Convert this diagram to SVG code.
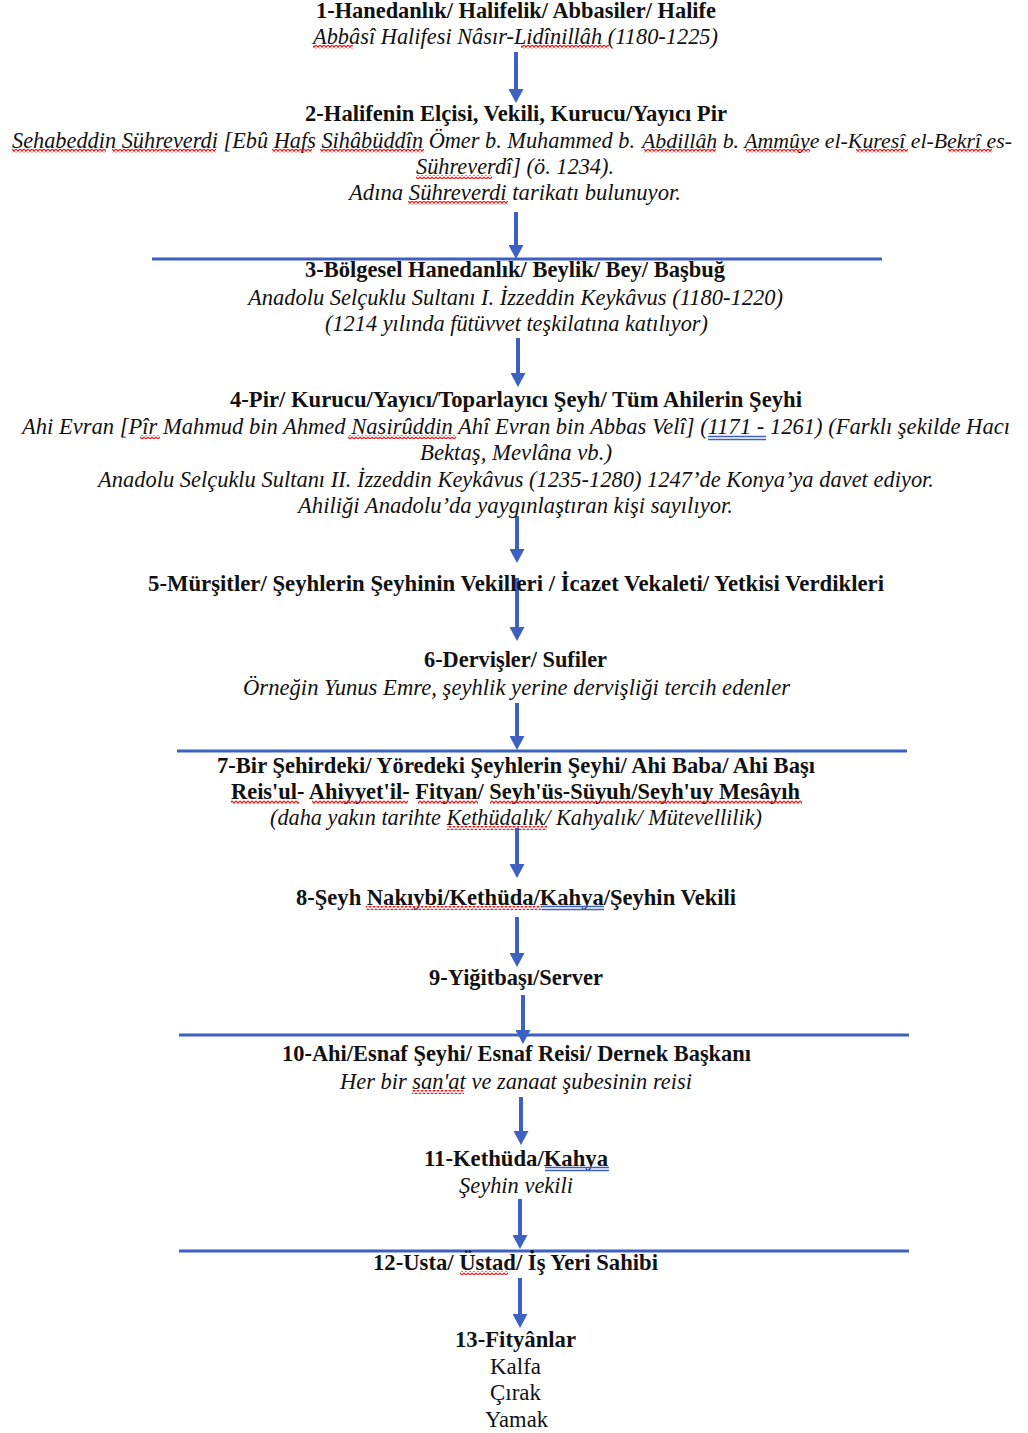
<svg xmlns="http://www.w3.org/2000/svg" width="1028" height="1433" viewBox="0 0 1028 1433">
<defs>
<style>
text{font-family:"Liberation Serif","Times New Roman",serif;font-size:23px;fill:#111;}
.b{font-weight:bold;}
.i{font-style:italic;}
.arr{stroke:#3d61c0;stroke-width:4;fill:none;marker-end:url(#ah);}
.hl{stroke:#3d61c0;stroke-width:3;}
.sq{fill:url(#wave);}
.du{stroke:#3d61c0;stroke-width:1.3;}
</style>
<marker id="ah" viewBox="0 0 14 15" refX="4" refY="7.5" markerWidth="14" markerHeight="15" markerUnits="userSpaceOnUse" orient="auto">
<path d="M0,0 L14,7.5 L0,15 Z" fill="#3d61c0"/>
</marker>
<pattern id="wave" width="4" height="4" patternUnits="userSpaceOnUse">
<path d="M0,0.8 L2,3.2 L4,0.8" stroke="#e41c1c" stroke-width="1.3" fill="none"/>
</pattern>
</defs>
<rect width="1028" height="1433" fill="#fff"/>

<g id="connectors">
<line class="hl" x1="152" y1="259" x2="882" y2="259"/>
<line class="hl" x1="177" y1="751" x2="907" y2="751"/>
<line class="hl" x1="179" y1="1035" x2="909" y2="1035"/>
<line class="hl" x1="179" y1="1251" x2="909" y2="1251"/>
<line class="arr" x1="516" y1="52" x2="516" y2="93"/>
<line class="arr" x1="516" y1="212" x2="516" y2="249"/>
<line class="arr" x1="518" y1="338" x2="518" y2="377"/>
<line class="arr" x1="517" y1="516" x2="517" y2="553"/>
<line class="arr" x1="517" y1="578" x2="517" y2="631"/>
<line class="arr" x1="517" y1="703" x2="517" y2="740"/>
<line class="arr" x1="517" y1="828" x2="517" y2="868"/>
<line class="arr" x1="517" y1="917" x2="517" y2="957"/>
<line class="arr" x1="523" y1="995" x2="523" y2="1034"/>
<line class="arr" x1="521" y1="1097" x2="521" y2="1135"/>
<line class="arr" x1="520" y1="1199" x2="520" y2="1239"/>
<line class="arr" x1="520" y1="1278" x2="520" y2="1318"/>
</g>

<g id="node1">
<text class="b" x="316" y="18" textLength="400" lengthAdjust="spacingAndGlyphs">1-Hanedanlık/ Halifelik/ Abbasiler/ Halife</text>
<text class="i" x="313" y="44" textLength="405" lengthAdjust="spacingAndGlyphs">Abbâsî Halifesi Nâsır-Lidînillâh (1180-1225)</text>
<rect class="sq" x="313" y="45" width="40" height="4"/>
<rect class="sq" x="521" y="45" width="88" height="4"/>
</g>

<g id="node2">
<text class="b" x="305" y="121" textLength="422" lengthAdjust="spacingAndGlyphs">2-Halifenin Elçisi, Vekili, Kurucu/Yayıcı Pir</text>
<text class="i" x="12" y="148" textLength="623" lengthAdjust="spacingAndGlyphs">Sehabeddin Sühreverdi [Ebû Hafs Sihâbüddîn Ömer b. Muhammed b.</text>
<text class="i" x="642" y="148" style="font-size:20.5px" textLength="370" lengthAdjust="spacingAndGlyphs">Abdillâh b. Ammûye el-Kuresî el-Bekrî es-</text>
<text class="i" x="416" y="174" textLength="198" lengthAdjust="spacingAndGlyphs">Sühreverdî] (ö. 1234).</text>
<text class="i" x="349" y="200" textLength="332" lengthAdjust="spacingAndGlyphs">Adına Sühreverdi tarikatı bulunuyor.</text>
<rect class="sq" x="12" y="149" width="94" height="4"/>
<rect class="sq" x="112" y="149" width="104" height="4"/>
<rect class="sq" x="272" y="149" width="40" height="4"/>
<rect class="sq" x="320" y="149" width="104" height="4"/>
<rect class="sq" x="644" y="149" width="72" height="4"/>
<rect class="sq" x="746" y="149" width="64" height="4"/>
<rect class="sq" x="856" y="149" width="52" height="4"/>
<rect class="sq" x="948" y="149" width="44" height="4"/>
<rect class="sq" x="416" y="175" width="76" height="4"/>
<rect class="sq" x="408" y="201" width="100" height="4"/>
</g>

<g id="node3">
<text class="b" x="305" y="277" textLength="420" lengthAdjust="spacingAndGlyphs">3-Bölgesel Hanedanlık/ Beylik/ Bey/ Başbuğ</text>
<text class="i" x="248" y="305" textLength="535" lengthAdjust="spacingAndGlyphs">Anadolu Selçuklu Sultanı I. İzzeddin Keykâvus (1180-1220)</text>
<text class="i" x="325" y="331" textLength="383" lengthAdjust="spacingAndGlyphs">(1214 yılında fütüvvet teşkilatına katılıyor)</text>
</g>

<g id="node4">
<text class="b" x="230" y="407" textLength="572" lengthAdjust="spacingAndGlyphs">4-Pir/ Kurucu/Yayıcı/Toparlayıcı Şeyh/ Tüm Ahilerin Şeyhi</text>
<text class="i" x="22" y="434" textLength="988" lengthAdjust="spacingAndGlyphs">Ahi Evran [Pîr Mahmud bin Ahmed Nasirûddin Ahî Evran bin Abbas Velî] (1171 - 1261) (Farklı şekilde Hacı</text>
<text class="i" x="420" y="460" textLength="192" lengthAdjust="spacingAndGlyphs">Bektaş, Mevlâna vb.)</text>
<text class="i" x="98" y="487" textLength="836" lengthAdjust="spacingAndGlyphs">Anadolu Selçuklu Sultanı II. İzzeddin Keykâvus (1235-1280) 1247’de Konya’ya davet ediyor.</text>
<text class="i" x="298" y="513" textLength="435" lengthAdjust="spacingAndGlyphs">Ahiliği Anadolu’da yaygınlaştıran kişi sayılıyor.</text>
<rect class="sq" x="140" y="435" width="20" height="4"/>
<rect class="sq" x="348" y="435" width="108" height="4"/>
<line class="du" x1="708" y1="436.5" x2="766" y2="436.5"/>
<line class="du" x1="708" y1="439.5" x2="766" y2="439.5"/>
</g>

<g id="node5">
<text class="b" x="148" y="591" textLength="736" lengthAdjust="spacingAndGlyphs">5-Mürşitler/ Şeyhlerin Şeyhinin Vekilleri / İcazet Vekaleti/ Yetkisi Verdikleri</text>
</g>

<g id="node6">
<text class="b" x="424" y="667" textLength="183" lengthAdjust="spacingAndGlyphs">6-Dervişler/ Sufiler</text>
<text class="i" x="243" y="695" textLength="547" lengthAdjust="spacingAndGlyphs">Örneğin Yunus Emre, şeyhlik yerine dervişliği tercih edenler</text>
</g>

<g id="node7">
<text class="b" x="217" y="773" textLength="598" lengthAdjust="spacingAndGlyphs">7-Bir Şehirdeki/ Yöredeki Şeyhlerin Şeyhi/ Ahi Baba/ Ahi Başı</text>
<text class="b" x="231" y="799" textLength="569" lengthAdjust="spacingAndGlyphs">Reis'ul- Ahiyyet'il- Fityan/ Seyh'üs-Süyuh/Seyh'uy Mesâyıh</text>
<text class="i" x="270" y="825" textLength="492" lengthAdjust="spacingAndGlyphs">(daha yakın tarihte Kethüdalık/ Kahyalık/ Mütevellilik)</text>
<rect class="sq" x="231" y="800" width="68" height="4"/>
<rect class="sq" x="312" y="800" width="96" height="4"/>
<rect class="sq" x="418" y="800" width="60" height="4"/>
<rect class="sq" x="490" y="800" width="312" height="4"/>
<rect class="sq" x="447" y="826" width="100" height="4"/>
</g>

<g id="node8">
<text class="b" x="296" y="905" textLength="440" lengthAdjust="spacingAndGlyphs">8-Şeyh Nakıybi/Kethüda/Kahya/Şeyhin Vekili</text>
<rect class="sq" x="366" y="906" width="176" height="4"/>
<line class="du" x1="542" y1="906.5" x2="604" y2="906.5"/>
<line class="du" x1="542" y1="909.5" x2="604" y2="909.5"/>
</g>

<g id="node9">
<text class="b" x="429" y="985" textLength="174" lengthAdjust="spacingAndGlyphs">9-Yiğitbaşı/Server</text>
</g>

<g id="node10">
<text class="b" x="282" y="1061" textLength="469" lengthAdjust="spacingAndGlyphs">10-Ahi/Esnaf Şeyhi/ Esnaf Reisi/ Dernek Başkanı</text>
<text class="i" x="340" y="1089" textLength="352" lengthAdjust="spacingAndGlyphs">Her bir san'at ve zanaat şubesinin reisi</text>
<rect class="sq" x="412" y="1090" width="52" height="4"/>
</g>

<g id="node11">
<text class="b" x="424" y="1166" textLength="184" lengthAdjust="spacingAndGlyphs">11-Kethüda/Kahya</text>
<text class="i" x="459" y="1193" textLength="114" lengthAdjust="spacingAndGlyphs">Şeyhin vekili</text>
<line class="du" x1="545" y1="1167.5" x2="609" y2="1167.5"/>
<line class="du" x1="545" y1="1170.5" x2="609" y2="1170.5"/>
</g>

<g id="node12">
<text class="b" x="373" y="1270" textLength="285" lengthAdjust="spacingAndGlyphs">12-Usta/ Üstad/ İş Yeri Sahibi</text>
<rect class="sq" x="460" y="1271" width="48" height="4"/>
</g>

<g id="node13">
<text class="b" x="455" y="1347" textLength="121" lengthAdjust="spacingAndGlyphs">13-Fityânlar</text>
<text x="490" y="1374" textLength="51" lengthAdjust="spacingAndGlyphs">Kalfa</text>
<text x="490" y="1400" textLength="51" lengthAdjust="spacingAndGlyphs">Çırak</text>
<text x="485" y="1427" textLength="63" lengthAdjust="spacingAndGlyphs">Yamak</text>
</g>
</svg>
